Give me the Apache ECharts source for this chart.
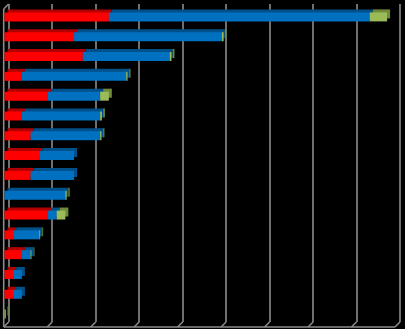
<!DOCTYPE html>
<html>
<head>
<meta charset="utf-8">
<script src="https://cdn.jsdelivr.net/npm/echarts@6/dist/echarts.min.js"></script>
<style>html,body{margin:0;padding:0;background:#000;}#c{width:405px;height:329px;}</style>
</head>
<body>
<div id="c"></div>
<script>
const categories = ['1','2','3','4','5','6','7','8','9','10','11','12','13','14','15','16'];
const redValues   = [24, 16, 18, 4, 10, 4, 6, 8, 6, 0, 10, 2, 4, 2, 2, 0];
const blueValues  = [60, 34, 20, 24, 12, 18, 16, 8, 10, 14, 2, 6, 2, 2, 2, 0];
const greenValues = [4, 0.4, 0.4, 0.3, 2, 0.4, 0.3, 0, 0, 0.3, 2, 0.2, 0.2, 0, 0, 0.3];
const ticks = [0, 10, 20, 30, 40, 50, 60, 70, 80, 90];

const DEPTH = 5;
const LINE = { color: '#8c8c8c', width: 1.6 };
const chart = echarts.init(document.getElementById('c'));

function barSeries(name, data, color, shade) {
  return {
    name, type: 'bar', stack: 'total', xAxisIndex: 1, yAxisIndex: 1,
    data, barWidth: 9, silent: true, animation: false,
    itemStyle: { color, shadowColor: shade, shadowBlur: 0, shadowOffsetX: 3, shadowOffsetY: -3 }
  };
}

chart.setOption({
  backgroundColor: '#000',
  animation: false,
  grid: [
    { left: 8.7, top: 4, width: 391.3, height: 318 },
    { left: 4.5, top: 7, width: 391.3, height: 317 }
  ],
  xAxis: [
    { gridIndex: 0, type: 'value', min: 0, max: 90, interval: 10,
      axisLine: { show: false }, axisTick: { show: false }, axisLabel: { show: false },
      splitLine: { show: true, lineStyle: { color: LINE.color, width: LINE.width } } },
    { gridIndex: 1, type: 'value', min: 0, max: 90, interval: 10, show: false }
  ],
  yAxis: [
    { gridIndex: 0, type: 'value', min: 0, max: 1, show: false },
    { gridIndex: 1, type: 'category', data: categories, inverse: true, show: false }
  ],
  series: [
    {
      type: 'custom', xAxisIndex: 0, yAxisIndex: 0, silent: true, z: 1,
      data: ticks.map(v => [v, 0]),
      renderItem: function (params, api) {
        const cs = params.coordSys;
        const x = api.coord([api.value(0), 0])[0];
        const B = cs.y + cs.height, T = cs.y;
        const st = { stroke: LINE.color, lineWidth: LINE.width };
        const children = [
          { type: 'line', shape: { x1: x, y1: B, x2: x - DEPTH, y2: B + DEPTH }, style: st }
        ];
        if (params.dataIndex === 0) {
          const xe = cs.x + cs.width;
          children.push({ type: 'line', shape: { x1: x - DEPTH, y1: B + DEPTH, x2: xe - DEPTH, y2: B + DEPTH }, style: st });
          children.push({ type: 'line', shape: { x1: x - DEPTH, y1: T + DEPTH, x2: x - DEPTH, y2: B + DEPTH }, style: st });
          children.push({ type: 'line', shape: { x1: x, y1: T, x2: x - DEPTH, y2: T + DEPTH }, style: st });
        }
        return { type: 'group', children };
      }
    },
    barSeries('red', redValues, '#ff0000', '#b00000'),
    barSeries('blue', blueValues, '#0070c0', '#00508a'),
    barSeries('green', greenValues, '#9bbb59', '#6e8a3a')
  ]
});
</script>
</body>
</html>
